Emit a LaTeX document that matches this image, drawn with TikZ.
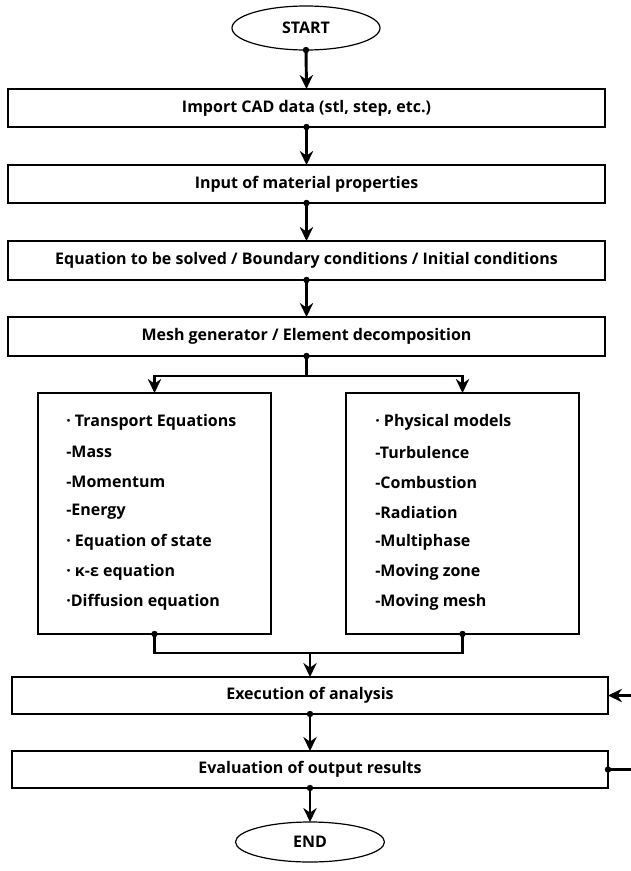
\documentclass[tikz,border=0pt]{standalone}
\usepackage{fontspec}
\setmainfont{Open Sans}
\usetikzlibrary{arrows.meta,shapes.geometric}
\tikzset{
  every node/.style={font=\fontsize{12pt}{14pt}\selectfont\bfseries},
  boxA/.style={draw,line width=1pt,rectangle,inner sep=0pt,outer sep=0pt,
    minimum width=597*0.75pt,minimum height=38*0.75pt},
  boxB/.style={draw,line width=1pt,rectangle,inner sep=0pt,outer sep=0pt,
    minimum width=596*0.75pt,minimum height=37*0.75pt},
  listbox/.style={draw,line width=1pt,rectangle,inner sep=0pt,outer sep=0pt,
    minimum width=233*0.75pt,minimum height=241*0.75pt},
  term/.style={draw,line width=0.9pt,ellipse,inner sep=0pt,outer sep=0pt,
    minimum width=148*0.75pt,minimum height=44*0.75pt},
  item/.style={anchor=west,inner sep=0pt},
  conn/.style={line width=2.2pt},
  arr/.style={line width=2.2pt,-{Stealth[length=10.5pt,width=10pt,inset=3.5pt]}},
  jdot/.style={fill=black}
}
\begin{document}
\begin{tikzpicture}[x=0.75pt,y=-0.75pt]
\path[use as bounding box,clip] (0,0) rectangle (631,871);
\fill[white] (0,0) rectangle (631,871);

\node[term] (start) at (306,28) {START};
\node[boxA] (b1) at (306.5,108) {Import CAD data (stl, step, etc.)};
\node[boxA] (b2) at (306.5,184) {Input of material properties};
\node[boxA,minimum height=39*0.75pt] (b3) at (306.5,260.5) {Equation to be solved / Boundary conditions / Initial conditions};
\node[boxA,minimum height=39*0.75pt] (b4) at (306.5,336.5) {Mesh generator / Element decomposition};
\node[listbox] (lb) at (154.5,513.5) {};
\node[listbox] (rb) at (462.5,513.5) {};
\node[boxB] (exec) at (310,695.5) {Execution of analysis};
\node[boxB] (eval) at (310,769.5) {Evaluation of output results};
\node[term,minimum width=149*0.75pt,minimum height=40*0.75pt] (end) at (310,842) {END};

% left list
\node[item] (l1) at (66,422) {· Transport Equations};
\node[item] (l2) at (66,452) {-Mass};
\node[item] (l3) at (66,482) {-Momentum};
\node[item] (l4) at (66,512) {-Energy};
\node[item] (l5) at (66,542) {· Equation of state};
\node[item] (l6) at (66,572) {· κ-ε equation};
\node[item] (l7) at (66,602) {·Diffusion equation};
% right list
\node[item] (r1) at (375,422) {· Physical models};
\node[item] (r2) at (375,452) {-Turbulence};
\node[item] (r3) at (375,482) {-Combustion};
\node[item] (r4) at (375,512) {-Radiation};
\node[item] (r5) at (375,542) {-Multiphase};
\node[item] (r6) at (375,572) {-Moving zone};
\node[item] (r7) at (375,602) {-Moving mesh};

\coordinate (split) at (306.5,376);
\coordinate (merge) at (310,653);
\coordinate (loopA) at (645,769.5);

\draw[arr] (start.south) -- (b1.north);
\draw[arr] (b1.south) -- (b2.north);
\draw[arr] (b2.south) -- (b3.north);
\draw[arr] (b3.south) -- (b4.north);
\draw[conn] (b4.south) -- (split);
\draw[arr] (split) -| (lb.north);
\draw[arr] (split) -| (rb.north);
\draw[conn] (lb.south) |- (merge);
\draw[conn] (rb.south) |- (merge);
\draw[arr] (merge) -- (exec.north);
\draw[arr] (exec.south) -- (eval.north);
\draw[arr] (eval.south) -- (end.north);
\draw[arr] (eval.east) -- (loopA) |- (exec.east);

\foreach \p in {start.south,b1.south,b2.south,b3.south,b4.south,lb.south,rb.south,exec.south,eval.south,eval.east}
  \fill[jdot] (\p) circle[radius=2.4pt];
\end{tikzpicture}
\end{document}
